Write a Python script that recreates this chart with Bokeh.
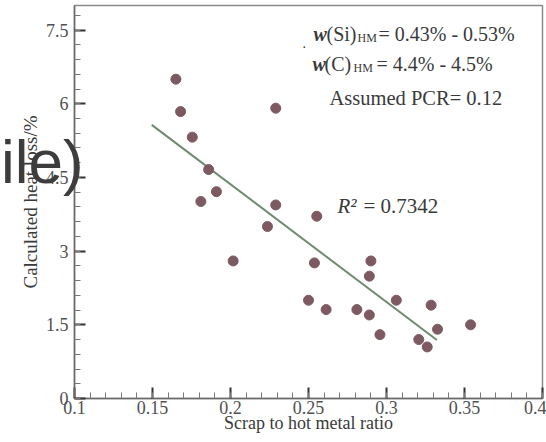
from bokeh.plotting import figure
from bokeh.models import Range1d, FixedTicker, Label, CustomJSTickFormatter, Div
from bokeh.layouts import column
from bokeh.embed import file_html
from bokeh.resources import INLINE

# ---- data ----
scrap_ratio = [0.165, 0.168, 0.1755, 0.186, 0.191, 0.181, 0.229, 0.229, 0.2237,
               0.2553, 0.2017, 0.2538, 0.290, 0.289, 0.250, 0.2613, 0.281, 0.289,
               0.2958, 0.3063, 0.3286, 0.3327, 0.3207, 0.3261, 0.3539]
heat_loss = [6.50, 5.84, 5.32, 4.66, 4.21, 4.01, 5.91, 3.94, 3.50,
             3.71, 2.80, 2.76, 2.80, 2.49, 2.00, 1.81, 1.81, 1.70,
             1.30, 2.00, 1.90, 1.41, 1.20, 1.05, 1.50]
fit_x = [0.1495, 0.3323]
fit_slope = -23.96
fit_intercept = 9.152
x_ticks = [0.1, 0.15, 0.2, 0.25, 0.3, 0.35, 0.4]
y_ticks = [0, 1.5, 3, 4.5, 6, 7.5]
x_minor = [round(0.1 + 0.01 * i, 3) for i in range(31)]
y_minor = [round(0.3 * i, 2) for i in range(27)]

SERIF = "Liberation Serif"
TXT = "#3a3a3a"

def X(px):
    return 0.1 + (px - 74) / 1560.0

def Y(py):
    return (398 - py) / 49.125

p = figure(width=546, height=442, x_range=Range1d(0.1, 0.4), y_range=Range1d(0, 8),
           output_backend="svg", toolbar_location=None,
           min_border_left=74, min_border_right=4, min_border_top=5, min_border_bottom=44)
p.grid.visible = False
p.background_fill_color = "white"
p.border_fill_color = "white"
p.outline_line_color = "#8a8a8a"
p.outline_line_width = 1.5

fmt = CustomJSTickFormatter(code="return String(Math.round(tick*1000)/1000)")
for ax, ticks, minor in ((p.xaxis[0], x_ticks, x_minor), (p.yaxis[0], y_ticks, y_minor)):
    ax.ticker = FixedTicker(ticks=ticks, minor_ticks=minor)
    ax.formatter = fmt
    ax.major_tick_in = 11
    ax.major_tick_out = 0
    ax.minor_tick_in = 6
    ax.minor_tick_out = 0
    ax.major_tick_line_color = "#333333"
    ax.major_tick_line_width = 2
    ax.minor_tick_line_color = "#777777"
    ax.minor_tick_line_width = 1
    ax.axis_line_color = "#6a6a6a"
    ax.axis_line_width = 1.5
    ax.major_label_text_font = SERIF
    ax.major_label_text_font_size = "18px"
    ax.major_label_text_color = "#505050"
    ax.axis_label_text_font = SERIF
    ax.axis_label_text_font_style = "normal"
    ax.axis_label_text_color = TXT

p.xaxis.major_label_standoff = 2
p.xaxis.axis_label = "Scrap to hot metal ratio"
p.xaxis.axis_label_text_font_size = "18px"
p.xaxis.axis_label_standoff = -4
p.yaxis.major_label_standoff = 6
p.yaxis.axis_label = "Calculated heat loss/%"
p.yaxis.axis_label_text_font_size = "19px"
p.yaxis.axis_label_standoff = 2

fit_y = [fit_intercept + fit_slope * v for v in fit_x]
p.line(fit_x, fit_y, line_color="#6e8b72", line_width=2)

p.scatter(scrap_ratio, heat_loss, size=10, fill_color="#7d5a62", line_color="#7d5a62")

def lab(txt, px, py, size=20, style="normal", color=TXT, font=SERIF, align="left"):
    p.add_layout(Label(x=X(px), y=Y(py), text=txt, text_font=font,
                       text_font_size=f"{size}px", text_font_style=style,
                       text_color=color, text_baseline="alphabetic", text_align=align))

lab("w", 313, 33, style="bold italic")
lab("(Si)", 326, 33)
lab("HM", 357, 37, size=12)
lab("= 0.43% - 0.53%", 378, 33)
lab("w", 312, 63, style="bold italic")
lab("(C)", 324, 63)
lab("HM", 353, 67, size=12)
lab("= 4.4% - 4.5%", 376, 63)
lab("Assumed PCR= 0.12", 329, 97, size=20.5)
lab(".", 302, 42, size=14)

lab("R\u00b2", 337, 205, size=21, style="italic")
lab("= 0.7342", 363, 205, size=21)

# overlay fragment that sits over the left margin of the reference
overlay = Div(text="ile)", width=100, height=70,
              styles={"position": "absolute", "left": "-4px", "top": "126px",
                      "font-family": "Liberation Sans", "font-size": "62px",
                      "line-height": "1", "color": "#3d3d3d", "z-index": "10",
                      "white-space": "nowrap"})

layout = column(p, overlay)
open("out.html", "w").write(file_html(layout, INLINE))
